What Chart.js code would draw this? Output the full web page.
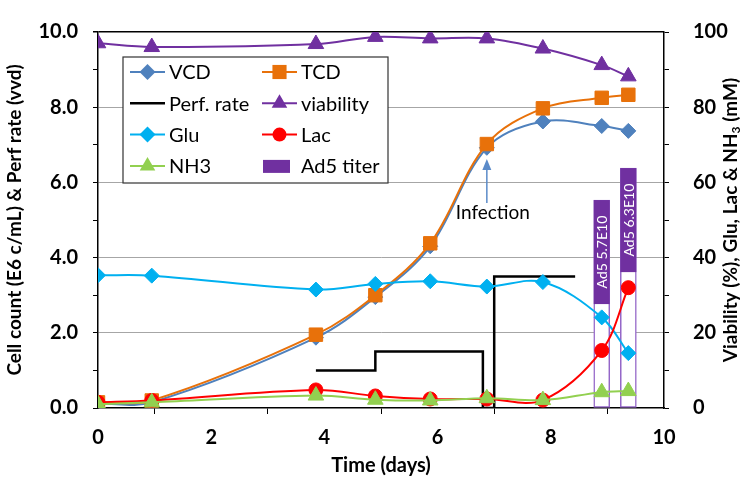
<!DOCTYPE html>
<html>
<head>
<meta charset="utf-8">
<script src="https://cdn.jsdelivr.net/npm/chart.js@4.4.0/dist/chart.umd.min.js"></script>
<style>
  html, body { margin: 0; padding: 0; background: #fff; }
  #wrap { width: 744px; height: 482px; }
</style>
</head>
<body>
<div id="wrap"><canvas id="chart"></canvas></div>
<script>
// culture data
const days = [0, 0.95, 3.85, 4.9, 5.87, 6.87, 7.86, 8.9, 9.37];
const vcd = [0.12, 0.15, 1.87, 2.95, 4.3, 6.92, 7.62, 7.5, 7.37];
const tcd = [0.15, 0.2, 1.95, 3.0, 4.38, 7.02, 7.97, 8.25, 8.33];
const viability = [97, 96, 96.8, 98.7, 98.3, 98.3, 95.6, 91.2, 88.2];
const glu = [35.3, 35.2, 31.5, 33, 33.7, 32.3, 33.5, 24.1, 14.6];
const lac = [1.5, 2, 4.8, 3.2, 2.4, 2.4, 2.1, 15.3, 32];
const nh3 = [1.0, 1.5, 3.3, 2.2, 2.0, 2.6, 2.1, 4.2, 4.5];

const perfDays = [3.85, 4.9, 6.8, 7.0, 8.43];
const perfRate = [1.0, 1.5, 0, 3.5, 3.5];

const titerDays = [8.9, 9.37];
const titerBar = [5.53, 6.38];
const titerLabels = ['Ad5 5.7E10', 'Ad5 6.3E10'];

const infectionDay = 6.87;

const C = {
  vcd: '#4F81BD', tcd: '#E8710A', perf: '#000000', via: '#7030A0',
  glu: '#00B0F0', lac: '#FF0000', nh3: '#92D050', titer: '#7030A0'
};
const FONT = 'Lato, "Open Sans", sans-serif';

const pts = (xs, ys) => xs.map((x, i) => ({ x: x, y: ys[i] }));

function series(label, ys, color, style, radius, axis, order) {
  return {
    type: 'line', label: label, data: pts(days, ys), yAxisID: axis, order: order,
    borderColor: color, backgroundColor: color, borderWidth: 2, tension: 0.35,
    pointStyle: style, pointRadius: radius, pointHoverRadius: radius,
    pointBackgroundColor: color, pointBorderColor: color, pointBorderWidth: 1
  };
}

// little marker painter for the hand-made legend
function marker(ctx, style, x, y, r, color) {
  ctx.save();
  ctx.fillStyle = color;
  ctx.beginPath();
  if (style === 'rectRot') {
    ctx.moveTo(x, y - r); ctx.lineTo(x + r, y); ctx.lineTo(x, y + r); ctx.lineTo(x - r, y);
  } else if (style === 'rect') {
    const s = r / Math.SQRT2;
    ctx.rect(x - s, y - s, 2 * s, 2 * s);
  } else if (style === 'triangle') {
    ctx.moveTo(x, y - r);
    ctx.lineTo(x + r * 0.866, y + r * 0.5);
    ctx.lineTo(x - r * 0.866, y + r * 0.5);
  } else {
    ctx.arc(x, y, r, 0, Math.PI * 2);
  }
  ctx.closePath();
  ctx.fill();
  ctx.restore();
}

const legendItems = [
  { text: 'VCD', color: C.vcd, style: 'rectRot', r: 8, col: 0, row: 0 },
  { text: 'TCD', color: C.tcd, style: 'rect', r: 10, col: 1, row: 0 },
  { text: 'Perf. rate', color: C.perf, style: null, col: 0, row: 1 },
  { text: 'viability', color: C.via, style: 'triangle', r: 9, col: 1, row: 1 },
  { text: 'Glu', color: C.glu, style: 'rectRot', r: 8, col: 0, row: 2 },
  { text: 'Lac', color: C.lac, style: 'circle', r: 7, col: 1, row: 2 },
  { text: 'NH3', color: C.nh3, style: 'triangle', r: 9, col: 0, row: 3 },
  { text: 'Ad5 titer', color: C.titer, style: 'box', col: 1, row: 3 }
];

const extras = {
  id: 'extras',
  afterDatasetsDraw(chart) {
    const ctx = chart.ctx;
    const xs = chart.scales.x, yl = chart.scales.y;

    // titer labels on top of the bars
    const meta = chart.getDatasetMeta(7);
    meta.data.forEach((bar, i) => {
      const w = 16, h = 104;
      ctx.save();
      ctx.fillStyle = C.titer;
      ctx.fillRect(bar.x - w / 2, bar.y, w, h);
      ctx.translate(bar.x, bar.y + h / 2);
      ctx.rotate(-Math.PI / 2);
      ctx.fillStyle = '#fff';
      ctx.font = '14px ' + FONT;
      ctx.textAlign = 'center';
      ctx.textBaseline = 'middle';
      ctx.fillText(titerLabels[i], 0, 1);
      ctx.restore();
    });

    // infection arrow
    const ax = xs.getPixelForValue(infectionDay);
    const tip = yl.getPixelForValue(6.62);
    const tail = yl.getPixelForValue(5.45);
    ctx.save();
    ctx.strokeStyle = '#5B8BC9';
    ctx.fillStyle = '#5B8BC9';
    ctx.lineWidth = 1.5;
    ctx.beginPath();
    ctx.moveTo(ax, tail);
    ctx.lineTo(ax, tip + 6);
    ctx.stroke();
    ctx.beginPath();
    ctx.moveTo(ax, tip);
    ctx.lineTo(ax - 4.5, tip + 11);
    ctx.lineTo(ax + 4.5, tip + 11);
    ctx.closePath();
    ctx.fill();
    ctx.fillStyle = '#000';
    ctx.font = '19px ' + FONT;
    ctx.textAlign = 'center';
    ctx.textBaseline = 'middle';
    ctx.fillText('Infection', ax + 6, yl.getPixelForValue(5.2));
    ctx.restore();
  },
  afterDraw(chart) {
    const ctx = chart.ctx;
    const area = chart.chartArea;

    // legend box
    const lx = 123, ly = 57, lw = 265, lh = 126;
    ctx.save();
    ctx.fillStyle = '#fff';
    ctx.fillRect(lx, ly, lw, lh);
    ctx.strokeStyle = '#333';
    ctx.lineWidth = 1.2;
    ctx.strokeRect(lx, ly, lw, lh);
    ctx.font = '20px ' + FONT;
    ctx.textBaseline = 'middle';
    ctx.textAlign = 'left';
    legendItems.forEach(it => {
      const x0 = it.col === 0 ? 130 : 262;
      const y = 72 + it.row * 31.3;
      if (it.style === 'box') {
        ctx.fillStyle = it.color;
        ctx.fillRect(x0 + 1, y - 6, 27, 13);
      } else {
        ctx.strokeStyle = it.color;
        ctx.lineWidth = it.style ? 2 : 2.5;
        ctx.beginPath();
        ctx.moveTo(x0, y);
        ctx.lineTo(x0 + 35, y);
        ctx.stroke();
        if (it.style) marker(ctx, it.style, x0 + 17.5, y, it.r, it.color);
      }
      ctx.fillStyle = '#000';
      ctx.fillText(it.text, x0 + 39, y + 1);
    });
    ctx.restore();

    // right axis title, reads bottom-to-top with subscript 3
    ctx.save();
    ctx.translate(731, (area.top + area.bottom) / 2);
    ctx.rotate(-Math.PI / 2);
    ctx.fillStyle = '#000';
    ctx.textBaseline = 'middle';
    ctx.textAlign = 'left';
    const big = 'bold 19px ' + FONT, small = 'bold 12px ' + FONT;
    const parts = [
      { t: 'Viability (%), Glu, Lac & NH', f: big, dy: 0 },
      { t: '3', f: small, dy: 5 },
      { t: ' (mM)', f: big, dy: 0 }
    ];
    let total = 0;
    parts.forEach(p => { ctx.font = p.f; p.w = ctx.measureText(p.t).width; total += p.w; });
    let cx = -total / 2;
    parts.forEach(p => { ctx.font = p.f; ctx.fillText(p.t, cx, p.dy); cx += p.w; });
    ctx.restore();
  }
};

const tickFont = { family: FONT, size: 20, weight: 'bold', lineHeight: 0.8 };
const titleFont = { family: FONT, size: 19, weight: 'bold' };

new Chart(document.getElementById('chart'), {
  type: 'line',
  data: {
    datasets: [
      series('VCD', vcd, C.vcd, 'rectRot', 7.5, 'y', 6),
      series('TCD', tcd, C.tcd, 'rect', 9.5, 'y', 5),
      {
        type: 'line', label: 'Perf. rate', data: pts(perfDays, perfRate), yAxisID: 'y', order: 7,
        borderColor: C.perf, borderWidth: 2.5, stepped: true, pointRadius: 0, fill: false
      },
      series('viability', viability, C.via, 'triangle', 9, 'y2', 4),
      series('Glu', glu, C.glu, 'rectRot', 7.5, 'y2', 3),
      series('Lac', lac, C.lac, 'circle', 7, 'y2', 2),
      series('NH3', nh3, C.nh3, 'triangle', 9, 'y2', 1),
      {
        type: 'bar', label: 'Ad5 titer', data: pts(titerDays, titerBar), yAxisID: 'y', order: 10,
        backgroundColor: '#ffffff', borderColor: '#9466C8', borderWidth: 1.5,
        barThickness: 16, borderSkipped: false
      }
    ]
  },
  options: {
    responsive: true,
    maintainAspectRatio: false,
    animation: false,
    layout: { padding: { top: 8, left: 0, right: 0, bottom: 0 } },
    plugins: { legend: { display: false }, tooltip: { enabled: false } },
    scales: {
      x: {
        type: 'linear', min: 0, max: 10, offset: false,
        ticks: { stepSize: 2, color: '#000', font: tickFont, padding: 16, maxRotation: 0 },
        grid: { drawOnChartArea: false, tickLength: 6, tickColor: '#000' },
        border: { color: '#000', width: 1.5 },
        title: { display: true, text: 'Time (days)', color: '#000', font: { family: FONT, size: 20, weight: 'bold' }, padding: { top: 0, bottom: 4 } },
        afterFit(s) { s.height = 74; }
      },
      y: {
        position: 'left', min: 0, max: 10,
        ticks: {
          stepSize: 1, autoSkip: false, color: '#000', font: tickFont, padding: 15,
          callback: v => (v % 2 === 0 ? v.toFixed(1) : '')
        },
        grid: {
          color: c => {
            const v = c.tick ? c.tick.value : 0;
            if (v === 10) return '#000';
            return v > 0 && v % 2 === 0 ? '#A6A6A6' : 'rgba(0,0,0,0)';
          },
          lineWidth: c => (c.tick && c.tick.value === 10 ? 1.5 : 1),
          tickColor: '#000', tickLength: 5
        },
        border: { color: '#000', width: 1.5 },
        title: { display: true, text: 'Cell count (E6 c/mL) & Perf rate (vvd)', color: '#000', font: titleFont, padding: { top: 3, bottom: 0 } },
        afterFit(s) { s.width = 98; }
      },
      y2: {
        position: 'right', min: 0, max: 100,
        ticks: {
          stepSize: 10, autoSkip: false, color: '#000', font: tickFont, padding: 24,
          callback: v => (v % 20 === 0 ? String(v) : '')
        },
        grid: { drawOnChartArea: false, tickColor: '#000', tickLength: 5 },
        border: { color: '#000', width: 1.5 },
        afterFit(s) { s.width = 80; }
      }
    }
  },
  plugins: [extras]
});
</script>
</body>
</html>
